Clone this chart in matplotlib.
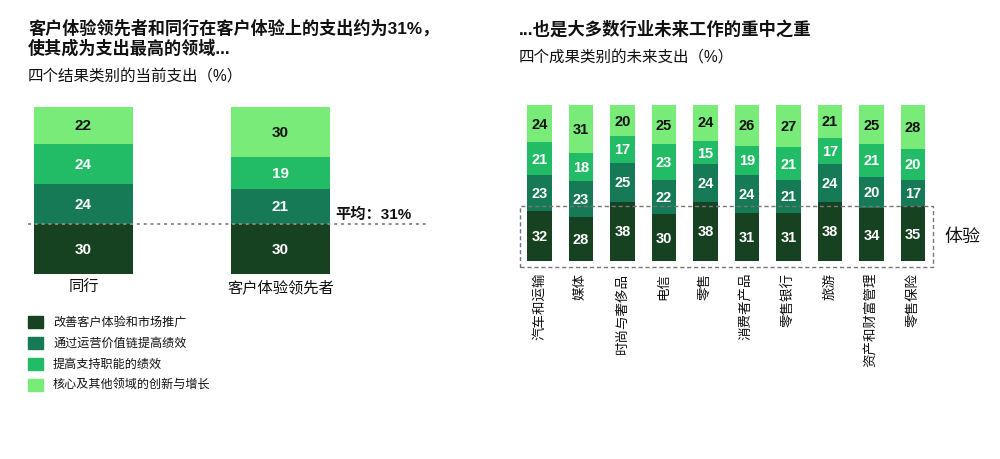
import matplotlib
matplotlib.use("Agg")
import matplotlib.pyplot as plt
from matplotlib.patches import Rectangle
import numpy as np

plt.rcParams['font.family'] = ['Liberation Sans', 'Noto Sans CJK SC', 'DejaVu Sans']

# ---------------- data ----------------
series_names = ["改善客户体验和市场推广", "通过运营价值链提高绩效",
                "提高支持职能的绩效", "核心及其他领域的创新与增长"]
colors = ["#174222", "#157A55", "#22BB66", "#78EB78"]
label_colors = ["white", "white", "white", "#111111"]

left_categories = ["同行", "客户体验领先者"]
left_values = [
    [30, 30],   # 改善客户体验和市场推广
    [24, 21],   # 通过运营价值链提高绩效
    [24, 19],   # 提高支持职能的绩效
    [22, 30],   # 核心及其他领域的创新与增长
]
average_value = 30
average_label = "平均：31%"

right_categories = ["汽车和运输", "媒体", "时尚与奢侈品", "电信", "零售", "消费者产品",
                    "零售银行", "旅游", "资产和财富管理", "零售保险"]
right_values = [
    [32, 28, 38, 30, 38, 31, 31, 38, 34, 35],
    [23, 23, 25, 22, 24, 24, 21, 24, 20, 17],
    [21, 18, 17, 23, 15, 19, 21, 17, 21, 20],
    [24, 31, 20, 25, 24, 26, 27, 21, 25, 28],
]

title_left = "客户体验领先者和同行在客户体验上的支出约为31%，\n使其成为支出最高的领域..."
subtitle_left = "四个结果类别的当前支出（%）"
title_right = "...也是大多数行业未来工作的重中之重"
subtitle_right = "四个成果类别的未来支出（%）"
box_label = "体验"

TXT = "#111111"
W, H = 1000, 460
fig = plt.figure(figsize=(10, 4.6), dpi=100)

def fx(px):
    return px / W

def fy(py):
    return 1 - py / H

# ---------------- left chart ----------------
axL = fig.add_axes([fx(28), fy(275), fx(400), 167 / H])
xl = np.arange(len(left_categories))
bottom = np.zeros(len(left_categories))
for i, vals in enumerate(left_values):
    vals = np.array(vals, dtype=float)
    axL.bar(xl, vals, bottom=bottom, width=0.5025, color=colors[i], edgecolor='none')
    for x, b, v in zip(xl, bottom, vals):
        axL.text(x, b + v / 2, f"{int(v)}", ha='center', va='center',
                 color=label_colors[i], fontsize=11, fontweight='bold')
    bottom += vals
axL.set_xlim(-0.2817, 1.749)
axL.set_ylim(0, 100)
axL.axhline(average_value, color='#8a8a8a', linestyle=(0, (1.5, 2)), linewidth=1.4, clip_on=False)
axL.text(1.28, average_value + 1.5, average_label, ha='left', va='bottom',
         fontsize=11, fontweight='bold', color=TXT)
axL.axis('off')
for x, c in zip(xl, left_categories):
    axL.text(x, -3.5, c, ha='center', va='top', fontsize=11, color=TXT)

# ---------------- right chart ----------------
axR = fig.add_axes([fx(515), fy(271.4), fx(425), (271.4 - 106) / H])
xr = np.arange(len(right_categories))
bottom = np.zeros(len(right_categories))
for i, vals in enumerate(right_values):
    vals = np.array(vals, dtype=float)
    axR.bar(xr, vals, bottom=bottom, width=0.6, color=colors[i], edgecolor='none')
    for x, b, v in zip(xr, bottom, vals):
        axR.text(x, b + v / 2, f"{int(v)}", ha='center', va='center',
                 color=label_colors[i], fontsize=10.5, fontweight='bold')
    bottom += vals
axR.set_xlim((515 - 539.5) / 41.5, (940 - 539.5) / 41.5)
axR.set_ylim(-6, 100)
axR.axis('off')
box = Rectangle((-0.47, -3.85), 9.95, 39.15, fill=False, edgecolor='#777777',
                linestyle=(0, (3, 2)), linewidth=1.0, clip_on=False)
axR.add_patch(box)
axR.text(9.77, 16, box_label, ha='left', va='center', fontsize=13, color=TXT)
for x, c in zip(xr, right_categories):
    axR.text(x, -7, c, ha='center', va='top', rotation=90, fontsize=9.7, color=TXT)

# ---------------- titles ----------------
for k, line in enumerate(title_left.split("\n")):
    fig.text(fx(28), fy(28 + 20 * k), line, ha='left', va='center', fontsize=12.3,
             fontweight='bold', color=TXT)
fig.text(fx(28), fy(77), subtitle_left, ha='left', va='center', fontsize=11.2, color=TXT)
fig.text(fx(519), fy(29), title_right, ha='left', va='center', fontsize=12.5,
         fontweight='bold', color=TXT)
fig.text(fx(519), fy(58), subtitle_right, ha='left', va='center', fontsize=11.2, color=TXT)

# ---------------- legend ----------------
leg_y = [323, 344, 365, 386]
for name, col, yy in zip(series_names, colors, leg_y):
    fig.patches.append(Rectangle((fx(28), fy(yy + 6)), fx(15), 12 / H, color=col,
                                 transform=fig.transFigure, figure=fig))
    fig.text(fx(53), fy(yy), name, ha='left', va='center', fontsize=8.7, color=TXT)

fig.savefig("out.png", dpi=100, facecolor='white')
